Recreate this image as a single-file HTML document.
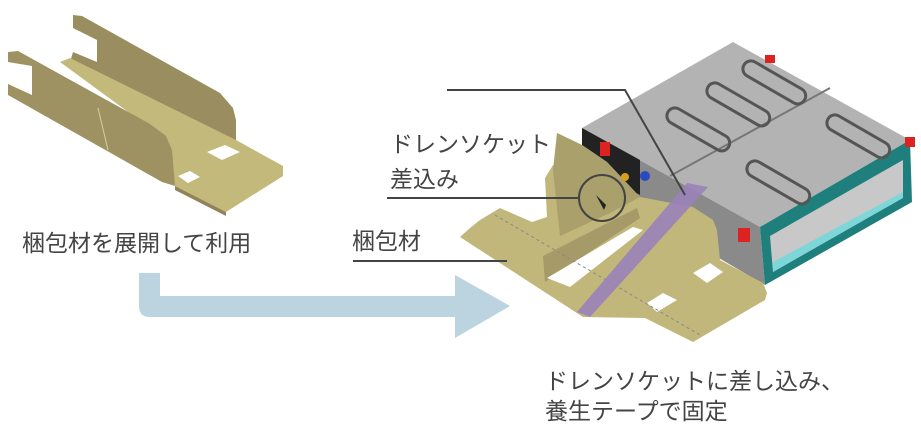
<!DOCTYPE html>
<html><head><meta charset="utf-8"><style>
html,body{margin:0;padding:0;background:#fff;}
body{width:921px;height:433px;overflow:hidden;position:relative;font-family:"Liberation Sans","Noto Sans CJK JP",sans-serif;}
.t{position:absolute;color:#444;font-size:23px;white-space:nowrap;line-height:1;}
</style></head><body>
<svg width="921" height="433" style="position:absolute;left:0;top:0">
<!-- left packing material -->
<polygon points="73,15,82,16,220,93,233,108,236,120,236,145,70,62,73,52,97,62,97,40,73,28" fill="#9a8e60"/>
<polygon points="60,62,70,58,236,140,283,166,283,176,226,212,175,186,170,150,150,128" fill="#c3b97b"/>
<polygon points="8,52,18,51,150,124,166,136,172,150,175,186,162,182,8,95,8,84,32,95,32,66,8,62" fill="#9e9263"/>
<polygon points="175,186,226,212,226,216,175,190" fill="#8f8458"/>
<polygon points="207,152,225,145,240,152,222,160" fill="#fff"/>
<polygon points="178,176,190,171,200,177,188,183" fill="#fff"/>
<line x1="98" y1="108" x2="108" y2="150" stroke="#d8cf95" stroke-width="1"/>
<!-- arrow -->
<path d="M139,273 H160 V296 H455 V275 L510,306 L455,338 V317 H150 Q139,317 139,306 Z" fill="#bcd3e0"/>
<!-- box -->
<polygon points="582,128,733,42,910,140,760,227" fill="#b3b3b3"/>
<polygon points="582,128,760,227,765,285,582,178" fill="#8a8a8a"/>
<polygon points="582,128,640,160,640,195,582,165" fill="#222"/>
<polygon points="760,227,910,140,912,202,765,285" fill="#1f7f7c"/>
<polygon points="770,236,903,160,903,197,773,272" fill="#c8c8c8"/>
<polygon points="773,262,903,192,903,198,773,272" fill="#7fd6d8"/>
<line x1="670" y1="176" x2="830" y2="88" stroke="#777" stroke-width="2"/>
<g fill="none" stroke="#555" stroke-width="3">
<rect x="0" y="0" width="70" height="16" rx="8" transform="translate(748,58) rotate(30)"/>
<rect x="0" y="0" width="70" height="16" rx="8" transform="translate(712,80) rotate(30)"/>
<rect x="0" y="0" width="70" height="16" rx="8" transform="translate(672,105) rotate(30)"/>
<rect x="0" y="0" width="70" height="16" rx="8" transform="translate(832,112) rotate(30)"/>
<rect x="0" y="0" width="70" height="16" rx="8" transform="translate(752,158) rotate(30)"/>
</g>
<g fill="#d22"><rect x="600" y="142" width="10" height="14"/><rect x="738" y="228" width="12" height="14"/><rect x="765" y="55" width="10" height="8"/><rect x="905" y="137" width="10" height="10"/></g>
<!-- right sheet -->
<polygon points="480,220,500,208,532,222,547,217,545,178,553,165,578,177,557,133,582,145,607,162,640,197,693,207,713,220,717,230,720,260,763,283,767,293,765,300,693,342,645,318,583,317,460,237,470,228" fill="#c1b77a"/>
<polygon points="557,133,582,145,607,162,640,197,610,213,560,236,553,170" fill="#a9a06c"/>
<polygon points="543,256,637,208,640,218,545,282" fill="#a59a68"/>
<polygon points="547,278,570,287,643,230,633,227" fill="#fff"/>
<polygon points="693,273,707,283,723,272,710,263" fill="#fff"/>
<polygon points="647,303,657,312,677,300,663,293" fill="#fff"/>
<polygon points="596,195,606,205,604,210" fill="#222"/>
<line x1="495" y1="215" x2="700" y2="335" stroke="#888" stroke-width="1" stroke-dasharray="3,3"/>
<polygon points="687,183,708,187,590,317,577,312" fill="#9a82b8" opacity="0.9"/>
<circle cx="625" cy="177" r="4" fill="#d9a020"/><circle cx="645" cy="176" r="5" fill="#2a4bc0"/>
<!-- callouts -->
<g stroke="#444" stroke-width="2" fill="none">
<polyline points="447,90 625,90 685,195"/>
<line x1="387" y1="198" x2="578" y2="198"/>
<circle cx="602" cy="198" r="23"/>
<line x1="353" y1="261" x2="507" y2="261"/>
</g>
</svg>
<div class="t" style="left:22px;top:232px;">梱包材を展開して利用</div>
<div class="t" style="left:390px;top:133px;">ドレンソケット</div>
<div class="t" style="left:390px;top:168px;">差込み</div>
<div class="t" style="left:352px;top:230px;">梱包材</div>
<div class="t" style="left:545px;top:370px;">ドレンソケットに差し込み、</div>
<div class="t" style="left:545px;top:400px;">養生テープで固定</div>
</body></html>
